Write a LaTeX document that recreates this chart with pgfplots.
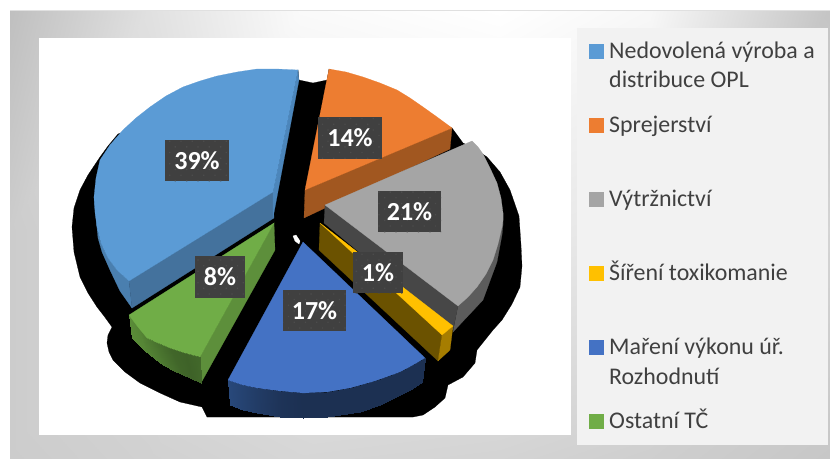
\documentclass[border=0pt]{standalone}
\usepackage{pgfplots}
\pgfplotsset{compat=1.18}
\usepackage{pgfplotstable}
\usepackage{fontspec}
\usetikzlibrary{patterns.meta}
\setmainfont{Carlito}

\definecolor{cBlue}{HTML}{5B9BD5}
\definecolor{cBlueCut}{HTML}{44729D}
\definecolor{cBlueCutB}{HTML}{4C86BB}
\definecolor{cBlueRim}{HTML}{4A7FAF}
\definecolor{cOrange}{HTML}{ED7D31}
\definecolor{cOrangeCut}{HTML}{A15720}
\definecolor{cGray}{HTML}{A5A5A5}
\definecolor{cGrayCut}{HTML}{474747}
\definecolor{cGrayRim}{HTML}{5C5C5C}
\definecolor{cYellow}{HTML}{FFC000}
\definecolor{cYellowCut}{HTML}{6B5200}
\definecolor{cYellowRim}{HTML}{A67D00}
\definecolor{cNavy}{HTML}{4472C4}
\definecolor{cGreen}{HTML}{70AD47}
\definecolor{cGreenCut}{HTML}{5D8F3B}
\definecolor{cBox}{HTML}{404040}
\definecolor{cDot}{HTML}{4C4C4C}
\definecolor{cPanel}{HTML}{F2F2F2}
\definecolor{cText}{HTML}{404040}

% background gradient, x y gray
\pgfplotstableread{
x y g
10 10 0.75
150 10 0.88
300 10 0.98
500 10 1.00
650 10 0.97
830 10 0.77
10 230 0.80
150 230 0.85
300 230 0.90
500 230 0.92
650 230 0.90
830 230 0.83
10 458 0.80
150 458 0.82
300 458 0.84
500 458 0.83
650 458 0.81
830 458 0.78
}\bgtable

% navy rim, upper edge then lower edge
\pgfplotstableread{
x y s
228 380 0.00
243 385 0.25
257 388 0.50
280 391 0.85
303 393 1.00
327 392 1.00
350 388 1.00
375 381 1.00
400 372 1.00
413 365 1.00
425 358 1.00
230 405 0.00
243 410 0.25
257 413 0.50
280 417 0.85
303 418 1.00
327 417 1.00
360 412 1.00
380 405 1.00
400 395 1.00
412 389 1.00
422 382 1.00
}\navyrim

% green rim, upper edge then lower edge
\pgfplotstableread{
x y s
129 315 0.00
138 327 0.15
147 338 0.40
158 343 0.65
170 348 0.90
185 353 1.00
200 357 0.85
132 338 0.00
145 351 0.15
160 363 0.40
172 370 0.65
183 375 0.90
192 379 1.00
201 383 0.85
}\greenrim

\pgfplotsset{pc/.style={draw=#1,line width=0.2pt,fill=#1,forget plot}}

\begin{document}
\begin{tikzpicture}
\begin{axis}[
    scale only axis,
    width=830pt, height=458pt,
    xmin=0, xmax=830, ymin=0, ymax=458,
    y dir=reverse,
    hide axis,
    colormap/blackwhite,
    colormap={navyrim}{rgb255=(40,72,122) rgb255=(28,48,82)},
    colormap={greenrim}{rgb255=(90,140,56) rgb255=(62,98,40)},
    colormap name=blackwhite,
    point meta min=0, point meta max=1,
    clip=true,
]
% page, frame and panels
\addplot[draw=none,fill=white,forget plot] coordinates {(0,0)(830,0)(830,458)(0,458)} --cycle;
\addplot[surf,shader=interp,mesh/rows=3,point meta=explicit,forget plot] table[x=x,y=y,meta=g] {\bgtable};
\addplot[color=black!12,line width=1pt,forget plot] coordinates {(10,10)(830,10)};
\addplot[pc=white] coordinates {(39,38)(570,38)(570,434)(39,434)} --cycle;
\addplot[pc=cPanel] coordinates {(577,28)(827,28)(827,444)(577,444)} --cycle;

% shadow
\addplot[pc=black] coordinates {(118,134)(108,146)(100,157)(88,175)(80,190)(74,208)(72,227)(74,252)(80,277)(88,293)(97,307)(104,316)(112,327)(108,335)(107,343)(109,352)(113,360)(125,372)(140,383)(160,393)(180,402)(202,407)(207,417)(288,417)(413,417)(423,415)(435,407)(445,398)(448,385)(463,377)(475,363)(477,350)(493,330)(502,320)(512,304)(520,287)(522,266)(521,245)(519,216)(510,190)(500,172)(487,157)(475,149)(463,143)(452,128)(329,69)(327,80)(313,83)(299,80)(298,70)} --cycle;
\addplot[pc=white] coordinates {(293,236)(296,235)(300,241)(299,244)(295,241)} --cycle;

% 39 %
\addplot[pc=cBlueRim] coordinates {(94,197)(97,227)(101,243)(108,258)(117,270)(129,281)(132,308)(120,291)(110,270)(102,252)(98,238)} --cycle;
\addplot[pc=cBlueCut] coordinates {(129,281)(273,192)(274,218)(132,308)} --cycle;
\addplot[pc=cBlueCutB] coordinates {(298,70)(273,192)(273,218)(299,80)} --cycle;
\addplot[pc=cBlue] coordinates {(298,70)(277,69)(257,69)(237,72)(217,76)(200,81)(183,87)(166,96)(150,107)(136,118)(123,130)(110,145)(100,160)(96,178)(94,197)(95,212)(97,227)(101,243)(108,258)(117,270)(129,281)(273,192)} --cycle;

% 14 %
\addplot[pc=cOrangeCut] coordinates {(305,190)(452,128)(450,149)(304,218)} --cycle;
\addplot[pc=cOrange] coordinates {(305,190)(329,69)(346,72)(363,77)(380,83)(397,90)(410,98)(423,107)(437,117)(452,128)} --cycle;

% 21 %
\addplot[pc=cGrayRim] coordinates {(503,213)(503,225)(502,235)(497,262)(483,300)(453,332)(458,306)} --cycle;
\addplot[pc=cGrayCut] coordinates {(325,205)(458,306)(453,330)(324,223)} --cycle;
\addplot[pc=cGray] coordinates {(325,205)(472,141)(478,147)(483,154)(490,168)(497,183)(501,198)(503,213)(503,220)(502,227)(498,244)(493,260)(486,274)(477,287)(468,297)(458,306)} --cycle;

% 1 %
\addplot[pc=cYellowCut] coordinates {(320,223)(442,335)(438,361)(319,250)} --cycle;
\addplot[pc=cYellowRim] coordinates {(442,335)(453,326)(450,350)(438,361)} --cycle;
\addplot[pc=cYellow] coordinates {(320,223)(453,326)(442,335)} --cycle;

% 17 %
\addplot[surf,shader=interp,colormap name=navyrim,mesh/rows=2,point meta=explicit,forget plot] table[x=x,y=y,meta=s] {\navyrim};
\addplot[pc=cNavy] coordinates {(303,242)(425,358)(413,365)(400,372)(375,381)(350,388)(327,392)(303,393)(280,391)(257,388)(243,385)(228,380)} --cycle;

% 8 %
\addplot[pc=cGreenCut] coordinates {(274,223)(275,250)(201,383)(200,357)} --cycle;
\addplot[surf,shader=interp,colormap name=greenrim,mesh/rows=2,point meta=explicit,forget plot] table[x=x,y=y,meta=s] {\greenrim};
\addplot[pc=cGreen] coordinates {(129,315)(274,223)(200,357)(185,353)(170,348)(158,343)(147,338)(138,327)} --cycle;

% legend keys
\addplot[pc=cBlue] coordinates {(589,44)(603,44)(603,58)(589,58)} --cycle;
\addplot[pc=cOrange] coordinates {(589,118)(603,118)(603,132)(589,132)} --cycle;
\addplot[pc=cGray] coordinates {(589,192)(603,192)(603,206)(589,206)} --cycle;
\addplot[pc=cYellow] coordinates {(589,266)(603,266)(603,280)(589,280)} --cycle;
\addplot[pc=cNavy] coordinates {(589,340)(603,340)(603,354)(589,354)} --cycle;
\addplot[pc=cGreen] coordinates {(589,414)(603,414)(603,428)(589,428)} --cycle;

% data labels
\pgfkeys{/tikz/dl/.style={fill=cBox,text=white,font=\fontsize{26}{26}\selectfont\bfseries,inner sep=0pt,minimum height=41.5pt,align=center,
    postaction={pattern={Dots[radius=0.9pt,distance=8pt,angle=45]},pattern color=cDot}}}
\node[dl,minimum width=64pt] at (axis cs:197,160.5) {39\%};
\node[dl,minimum width=64pt] at (axis cs:350,138) {14\%};
\node[dl,minimum width=63pt] at (axis cs:409.5,211.5) {21\%};
\node[dl,minimum width=50pt] at (axis cs:378,272.5) {1\%};
\node[dl,minimum width=63pt] at (axis cs:314.5,310.5) {17\%};
\node[dl,minimum width=50pt] at (axis cs:220,277) {8\%};

% legend texts
\pgfkeys{/tikz/lt/.style={anchor=base west,inner sep=0pt,text=cText,font=\fontsize{23.9}{24}\selectfont}}
\node[lt] at (axis cs:609,58) {Nedovolená výroba a};
\node[lt] at (axis cs:609,87) {distribuce OPL};
\node[lt] at (axis cs:609,132) {Sprejerství};
\node[lt] at (axis cs:609,206) {Výtržnictví};
\node[lt] at (axis cs:609,280) {Šíření toxikomanie};
\node[lt] at (axis cs:609,354) {Maření výkonu úř.};
\node[lt] at (axis cs:609,384) {Rozhodnutí};
\node[lt] at (axis cs:609,428) {Ostatní TČ};
\end{axis}
\end{tikzpicture}
\end{document}
